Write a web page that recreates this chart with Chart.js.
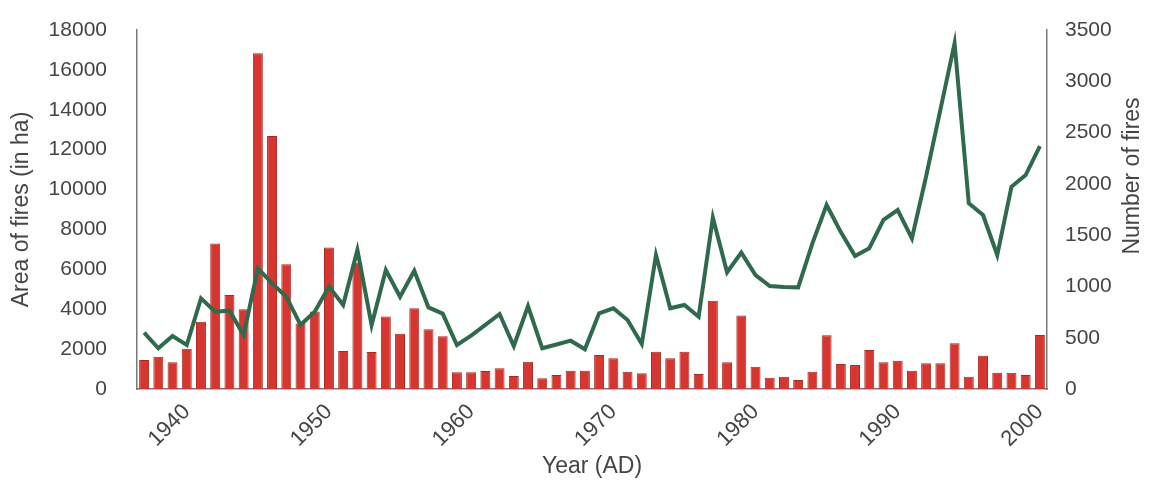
<!DOCTYPE html>
<html>
<head>
<meta charset="utf-8">
<title>Fires chart</title>
<script src="https://cdn.jsdelivr.net/npm/chart.js@4.4.1/dist/chart.umd.min.js"></script>
<style>
    html, body { margin: 0; padding: 0; background: #ffffff; }
    #wrap { width: 1150px; height: 483px; position: relative; }
</style>
</head>
<body>
<div id="wrap"><canvas id="fireChart" width="1150" height="483"></canvas></div>
<script>
// Years shown on the x axis
const years = [
    1937, 1938, 1939, 1940, 1941, 1942, 1943, 1944, 1945, 1946,
    1947, 1948, 1949, 1950, 1951, 1952, 1953, 1954, 1955, 1956,
    1957, 1958, 1959, 1960, 1961, 1962, 1963, 1964, 1965, 1966,
    1967, 1968, 1969, 1970, 1971, 1972, 1973, 1974, 1975, 1976,
    1977, 1978, 1979, 1980, 1981, 1982, 1983, 1984, 1985, 1986,
    1987, 1988, 1989, 1990, 1991, 1992, 1993, 1994, 1995, 1996,
    1997, 1998, 1999, 2000
];

// Area of fires (ha) - bars, left axis
const fireArea = [
    1450, 1620, 1340, 2020, 3370, 7300, 4710, 4000, 16830, 12690,
    6250, 3290, 3880, 7090, 1900, 6330, 1850, 3630, 2770, 4050,
    2990, 2640, 835, 835, 900, 1036, 650, 1370, 535, 700,
    920, 920, 1705, 1540, 870, 790, 1870, 1540, 1870, 750,
    4430, 1340, 3680, 1120, 570, 620, 450, 870, 2690, 1250,
    1200, 1955, 1340, 1420, 920, 1290, 1290, 2290, 620, 1670,
    820, 820, 700, 2710
];

// Number of fires - line, right axis
const fireCount = [
    549, 397, 517, 429, 884, 754, 764, 526, 1176, 1030,
    900, 624, 754, 998, 819, 1355, 624, 1160, 900, 1153,
    795, 735, 429, 520, 625, 731, 419, 809, 397, 434,
    471, 387, 738, 787, 673, 439, 1306, 787, 819, 705,
    1670, 1138, 1330, 1111, 1004, 995, 991, 1420, 1794, 1530,
    1297, 1372, 1648, 1745, 1469, 2074, 2722, 3370, 1810, 1696,
    1306, 1972, 2086, 2369
];

// Years that get a label
const labelYears = [1940, 1950, 1960, 1970, 1980, 1990, 2000];

const fontFamily = '"Liberation Sans", Arial, sans-serif';
const textColor = '#454545';
const axisColor = '#7a7a7a';

// Plain numbers, no thousands separator
function plainNumber(value) {
    return String(value);
}

// Fix the width of a y axis and drop the extra label padding on top/bottom
function fixWidth(width) {
    return function(scale) {
        scale.width = width;
        scale.paddingTop = 0;
        scale.paddingBottom = 0;
    };
}

// Right axis title reads bottom to top, so draw it by hand
const rightTitle = {
    id: 'rightTitle',
    afterDraw(chart) {
        const ctx = chart.ctx;
        ctx.save();
        ctx.translate(1133, 176);
        ctx.rotate(-Math.PI / 2);
        ctx.font = '23px ' + fontFamily;
        ctx.fillStyle = textColor;
        ctx.textAlign = 'center';
        ctx.textBaseline = 'middle';
        ctx.fillText('Number of fires', 0, 0);
        ctx.restore();
    }
};

document.addEventListener('DOMContentLoaded', function() {
    const ctx = document.getElementById('fireChart');

    new Chart(ctx, {
        type: 'bar',
        data: {
            labels: years,
            datasets: [
                {
                    type: 'line',
                    label: 'Number of fires',
                    data: fireCount,
                    yAxisID: 'y1',
                    borderColor: '#2f6a4d',
                    borderWidth: 4,
                    pointRadius: 0,
                    tension: 0,
                    fill: false,
                    order: 1
                },
                {
                    type: 'bar',
                    label: 'Area of fires (in ha)',
                    data: fireArea,
                    yAxisID: 'y',
                    backgroundColor: '#d6362f',
                    borderColor: '#a82a25',
                    borderWidth: 1,
                    categoryPercentage: 1,
                    barPercentage: 0.7,
                    order: 2
                }
            ]
        },
        options: {
            responsive: false,
            animation: false,
            layout: {
                padding: { top: 30, left: 0, right: 0, bottom: 0 }
            },
            plugins: {
                legend: { display: false },
                tooltip: { enabled: false }
            },
            scales: {
                x: {
                    grid: { display: false, drawTicks: false, tickLength: 0 },
                    border: { display: true, color: axisColor, width: 1.5 },
                    afterFit: function(scale) { scale.height = 94; },
                    ticks: {
                        autoSkip: false,
                        minRotation: 45,
                        maxRotation: 45,
                        padding: 10,
                        color: textColor,
                        font: { family: fontFamily, size: 22 },
                        callback: function(value, index) {
                            const yr = years[index];
                            return labelYears.includes(yr) ? String(yr) : '';
                        }
                    },
                    title: {
                        display: true,
                        text: 'Year (AD)',
                        color: textColor,
                        font: { family: fontFamily, size: 23 },
                        padding: { top: 0, bottom: 3 }
                    }
                },
                y: {
                    position: 'left',
                    min: 0,
                    max: 18000,
                    grid: { display: false, drawTicks: false, tickLength: 0 },
                    border: { display: true, color: axisColor, width: 1.5 },
                    afterFit: fixWidth(137),
                    ticks: {
                        stepSize: 2000,
                        padding: 30,
                        color: textColor,
                        font: { family: fontFamily, size: 21 },
                        callback: plainNumber
                    },
                    title: {
                        display: true,
                        text: 'Area of fires (in ha)',
                        color: textColor,
                        font: { family: fontFamily, size: 23 },
                        padding: { top: 8, bottom: 0 }
                    }
                },
                y1: {
                    position: 'right',
                    min: 0,
                    max: 3500,
                    grid: { display: false, drawTicks: false, tickLength: 0 },
                    border: { display: true, color: axisColor, width: 1.5 },
                    afterFit: fixWidth(103),
                    ticks: {
                        stepSize: 500,
                        padding: 18,
                        color: textColor,
                        font: { family: fontFamily, size: 21 },
                        callback: plainNumber
                    }
                }
            }
        },
        plugins: [rightTitle]
    });
});
</script>
</body>
</html>
